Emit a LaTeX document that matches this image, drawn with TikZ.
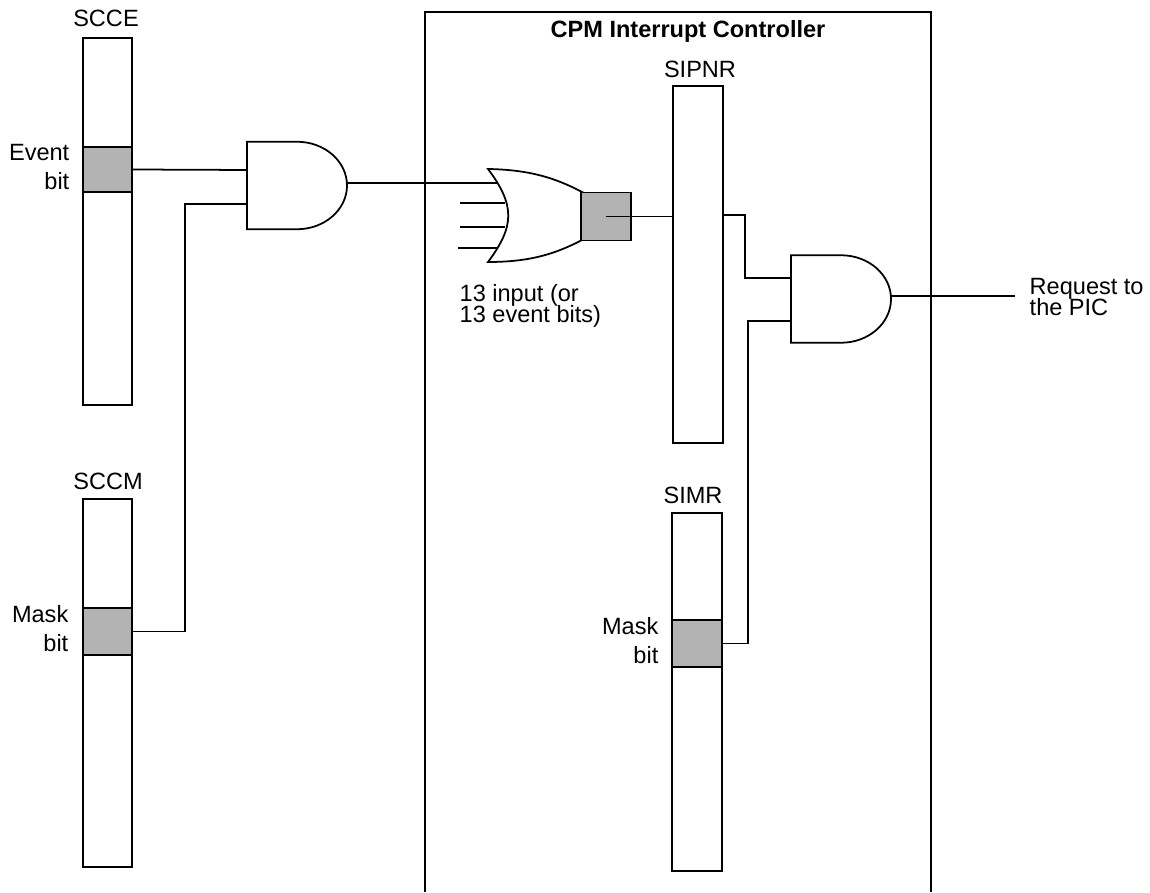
\documentclass[tikz,border=0pt]{standalone}
\usepackage{fontspec}
\setmainfont{Liberation Sans}
\definecolor{cellgray}{HTML}{B3B3B3}
\newcommand{\labfont}{\fontsize{6.7}{6}\selectfont\lineskiplimit=-5pt\relax}
\tikzset{
  wire/.style={line width=0.5pt},
  bar/.style={draw,line width=0.5pt,minimum width=0.5cm,inner sep=0pt,outer sep=0pt},
  cell/.style={draw,fill=cellgray,line width=0.5pt,minimum width=0.5cm,inner sep=0pt,outer sep=0pt},
  lab/.style={inner sep=0pt,font=\labfont},
  gatebox/.style={minimum width=1cm,minimum height=#1,inner sep=0pt,outer sep=0pt}
}
\newcommand{\andgate}[3]{\node[gatebox=0.875cm] (#1) at (#2,#3) {};
\draw[wire] (#1.north) -- (#1.north west) -- (#1.south west) -- (#1.south) arc[start angle=-90,end angle=90,x radius=0.5,y radius=0.4375];}

\begin{document}
\begin{tikzpicture}
\useasboundingbox (0,0) rectangle (11.5,8.92);
% controller frame
\coordinate (frameL) at (4.25,0); \coordinate (frameR) at (9.31,0);
\draw[wire] (frameL) |- (9.31,8.8) -- (frameR);
\node[lab,font=\labfont\bfseries] (frameT) at (6.88,8.61) {CPM Interrupt Controller};
% registers
\node[bar,minimum width=0.49cm,minimum height=3.67cm] (scce) at (1.075,6.705) {};
\node[cell,minimum width=0.49cm,minimum height=0.45cm] (scceC) at (1.075,7.225) {};
\node[lab] (scceT) at (1.06,8.74) {SCCE};
\node[lab,align=right,anchor=east] (scceL) at (0.7,7.25) {Event\\[2.0pt]bit};
\node[bar,minimum width=0.49cm,minimum height=3.68cm] (sccm) at (1.075,2.09) {};
\node[cell,minimum width=0.49cm,minimum height=0.47cm] (sccmC) at (1.075,2.605) {};
\node[lab] (sccmT) at (1.08,4.11) {SCCM};
\node[lab,align=right,anchor=east] (sccmL) at (0.69,2.63) {Mask\\[2.25pt]bit};
\node[bar,minimum height=3.57cm] (sipnr) at (6.98,6.275) {};
\node[lab] (sipnrT) at (7.0,8.23) {SIPNR};
\node[bar,minimum height=3.58cm] (simr) at (6.97,2.0) {};
\node[cell,minimum height=0.47cm] (simrC) at (6.97,2.485) {};
\node[lab] (simrT) at (6.93,3.97) {SIMR};
\node[lab,align=right,anchor=east] (simrL) at (6.59,2.515) {Mask\\[2.25pt]bit};
% gates
\andgate{andA}{2.97}{7.065}
\andgate{andB}{8.41}{5.93}
\coordinate (andAi) at (2.47,7.22); \coordinate (andAj) at (2.47,6.88); \coordinate (andAo) at (3.47,7.09);
\coordinate (andBi) at (7.91,6.14); \coordinate (andBj) at (7.91,5.71); \coordinate (andBo) at (8.91,5.96);
\draw[wire] (4.88,7.23) .. controls (5.4,7.22) and (5.72,7.1) .. (6.2,6.76) .. controls (5.72,6.42) and (5.4,6.3) .. (4.88,6.3) .. controls (5.15,6.66) and (5.15,6.87) .. cycle;
\node[cell,minimum height=0.48cm] (orC) at (6.06,6.755) {};
\node[lab,align=left,anchor=west] (orT) at (4.59,5.86) {13 input (or\\13 event bits)};
% or inputs
\coordinate (orA) at (4.98,7.09); \coordinate (orB) at (5.05,6.89); \coordinate (orD) at (5.05,6.65); \coordinate (orE) at (4.98,6.44);
\coordinate (stubB) at (4.6,6.89); \coordinate (stubD) at (4.6,6.65); \coordinate (stubE) at (4.58,6.44);
\draw[wire] (stubB) -- (orB);
\draw[wire] (stubD) -- (orD);
\draw[wire] (stubE) -- (orE);
% wires
\draw[wire] (scceC.east) -- (andAi);
\draw[wire] (sccmC.east) -- ++(0.53,0) |- (andAj);
\draw[wire] (andAo) -- (orA);
\draw[wire] (orC.center) -- (orC.center -| sipnr.west);
\coordinate (sipnrO) at (7.23,6.77);
\draw[wire] (sipnrO) -- ++(0.22,0) |- (andBi);
\draw[wire] (simrC.east) -- ++(0.26,0) |- (andBj);
\coordinate (reqE) at (10.15,5.96);
\draw[wire] (andBo) -- (reqE);
\node[lab,align=left,anchor=west] (reqT) at (10.29,5.95) {Request to\\the PIC};
\end{tikzpicture}
\end{document}
